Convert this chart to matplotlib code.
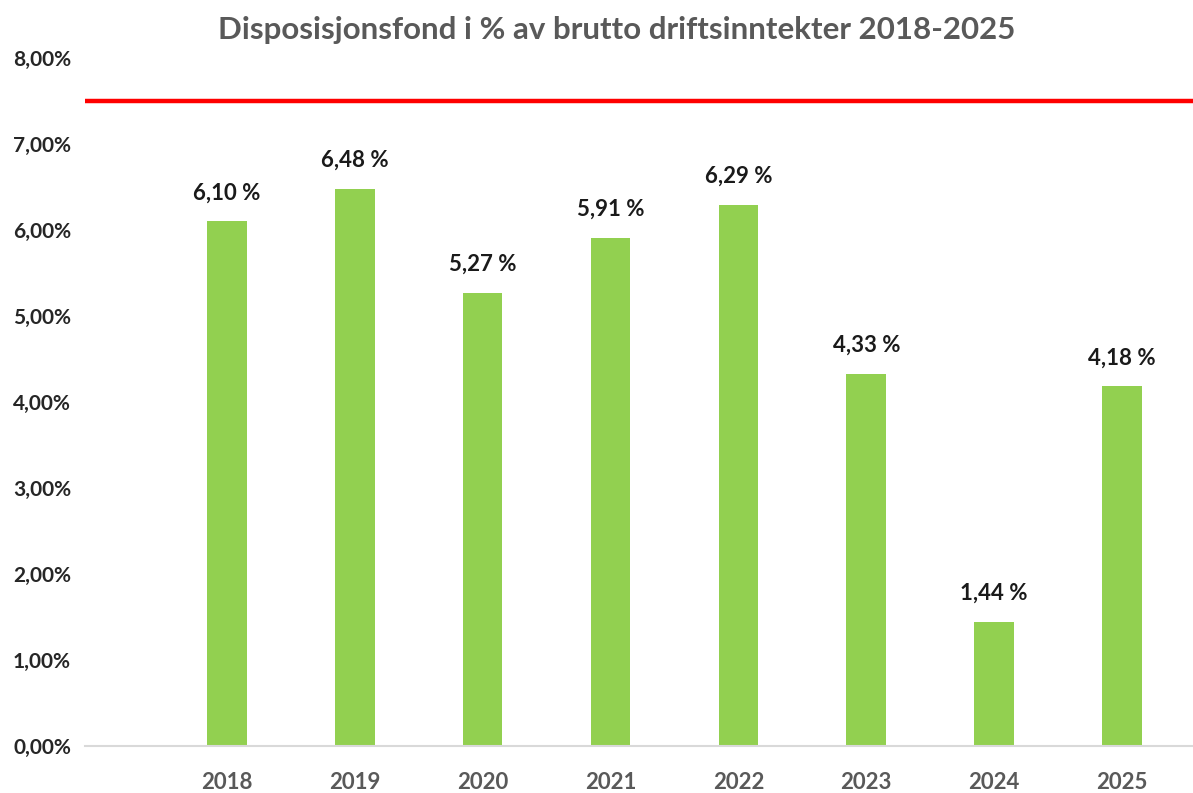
import numpy as np
import matplotlib.pyplot as plt
from matplotlib.ticker import FuncFormatter

# data
years = ['2018', '2019', '2020', '2021', '2022', '2023', '2024', '2025']
values = [6.10, 6.48, 5.27, 5.91, 6.29, 4.33, 1.44, 4.18]
target = 7.5
title = 'Disposisjonsfond i % av brutto driftsinntekter 2018-2025'

plt.rcParams['font.family'] = ['Lato', 'DejaVu Sans']

fig = plt.figure(figsize=(11.93, 7.93), dpi=100)
ax = fig.add_axes([0.0712, 0.0593, 0.9288, 0.8676])

x = np.arange(len(years))
ax.bar(x, values, width=0.31, color='#92D050', zorder=2)

# target line
ax.axhline(target, color='#FF0000', lw=3.2, zorder=3)

# value labels
for xi, v in zip(x, values):
    ax.annotate(f'{v:.2f} %'.replace('.', ','), (xi, v), xytext=(0, 13),
                textcoords='offset points', ha='center', va='bottom',
                fontsize=16, fontweight='bold', color='#1a1a1a')

ax.set_xlim(-1.11, 7.555)
ax.set_ylim(0, 8)
ax.set_yticks(np.arange(0, 9, 1))
ax.yaxis.set_major_formatter(FuncFormatter(lambda v, p: f'{v:.2f}%'.replace('.', ',')))
ax.set_xticks(x)
ax.set_xticklabels(years)

for s in ['top', 'right', 'left']:
    ax.spines[s].set_visible(False)
ax.spines['bottom'].set_color('#d9d9d9')
ax.spines['bottom'].set_linewidth(1.5)

ax.tick_params(axis='y', length=0, pad=10, labelsize=15)
ax.tick_params(axis='x', length=0, pad=19, labelsize=16, labelcolor='#595959')
for lbl in ax.get_yticklabels():
    lbl.set_fontweight('bold')
    lbl.set_color('#262626')
for lbl in ax.get_xticklabels():
    lbl.set_fontweight('bold')

fig.text(0.517, 0.962, title, ha='center', va='center', fontsize=22.5,
         fontweight='bold', color='#595959')

fig.savefig('out.png', dpi=100)
